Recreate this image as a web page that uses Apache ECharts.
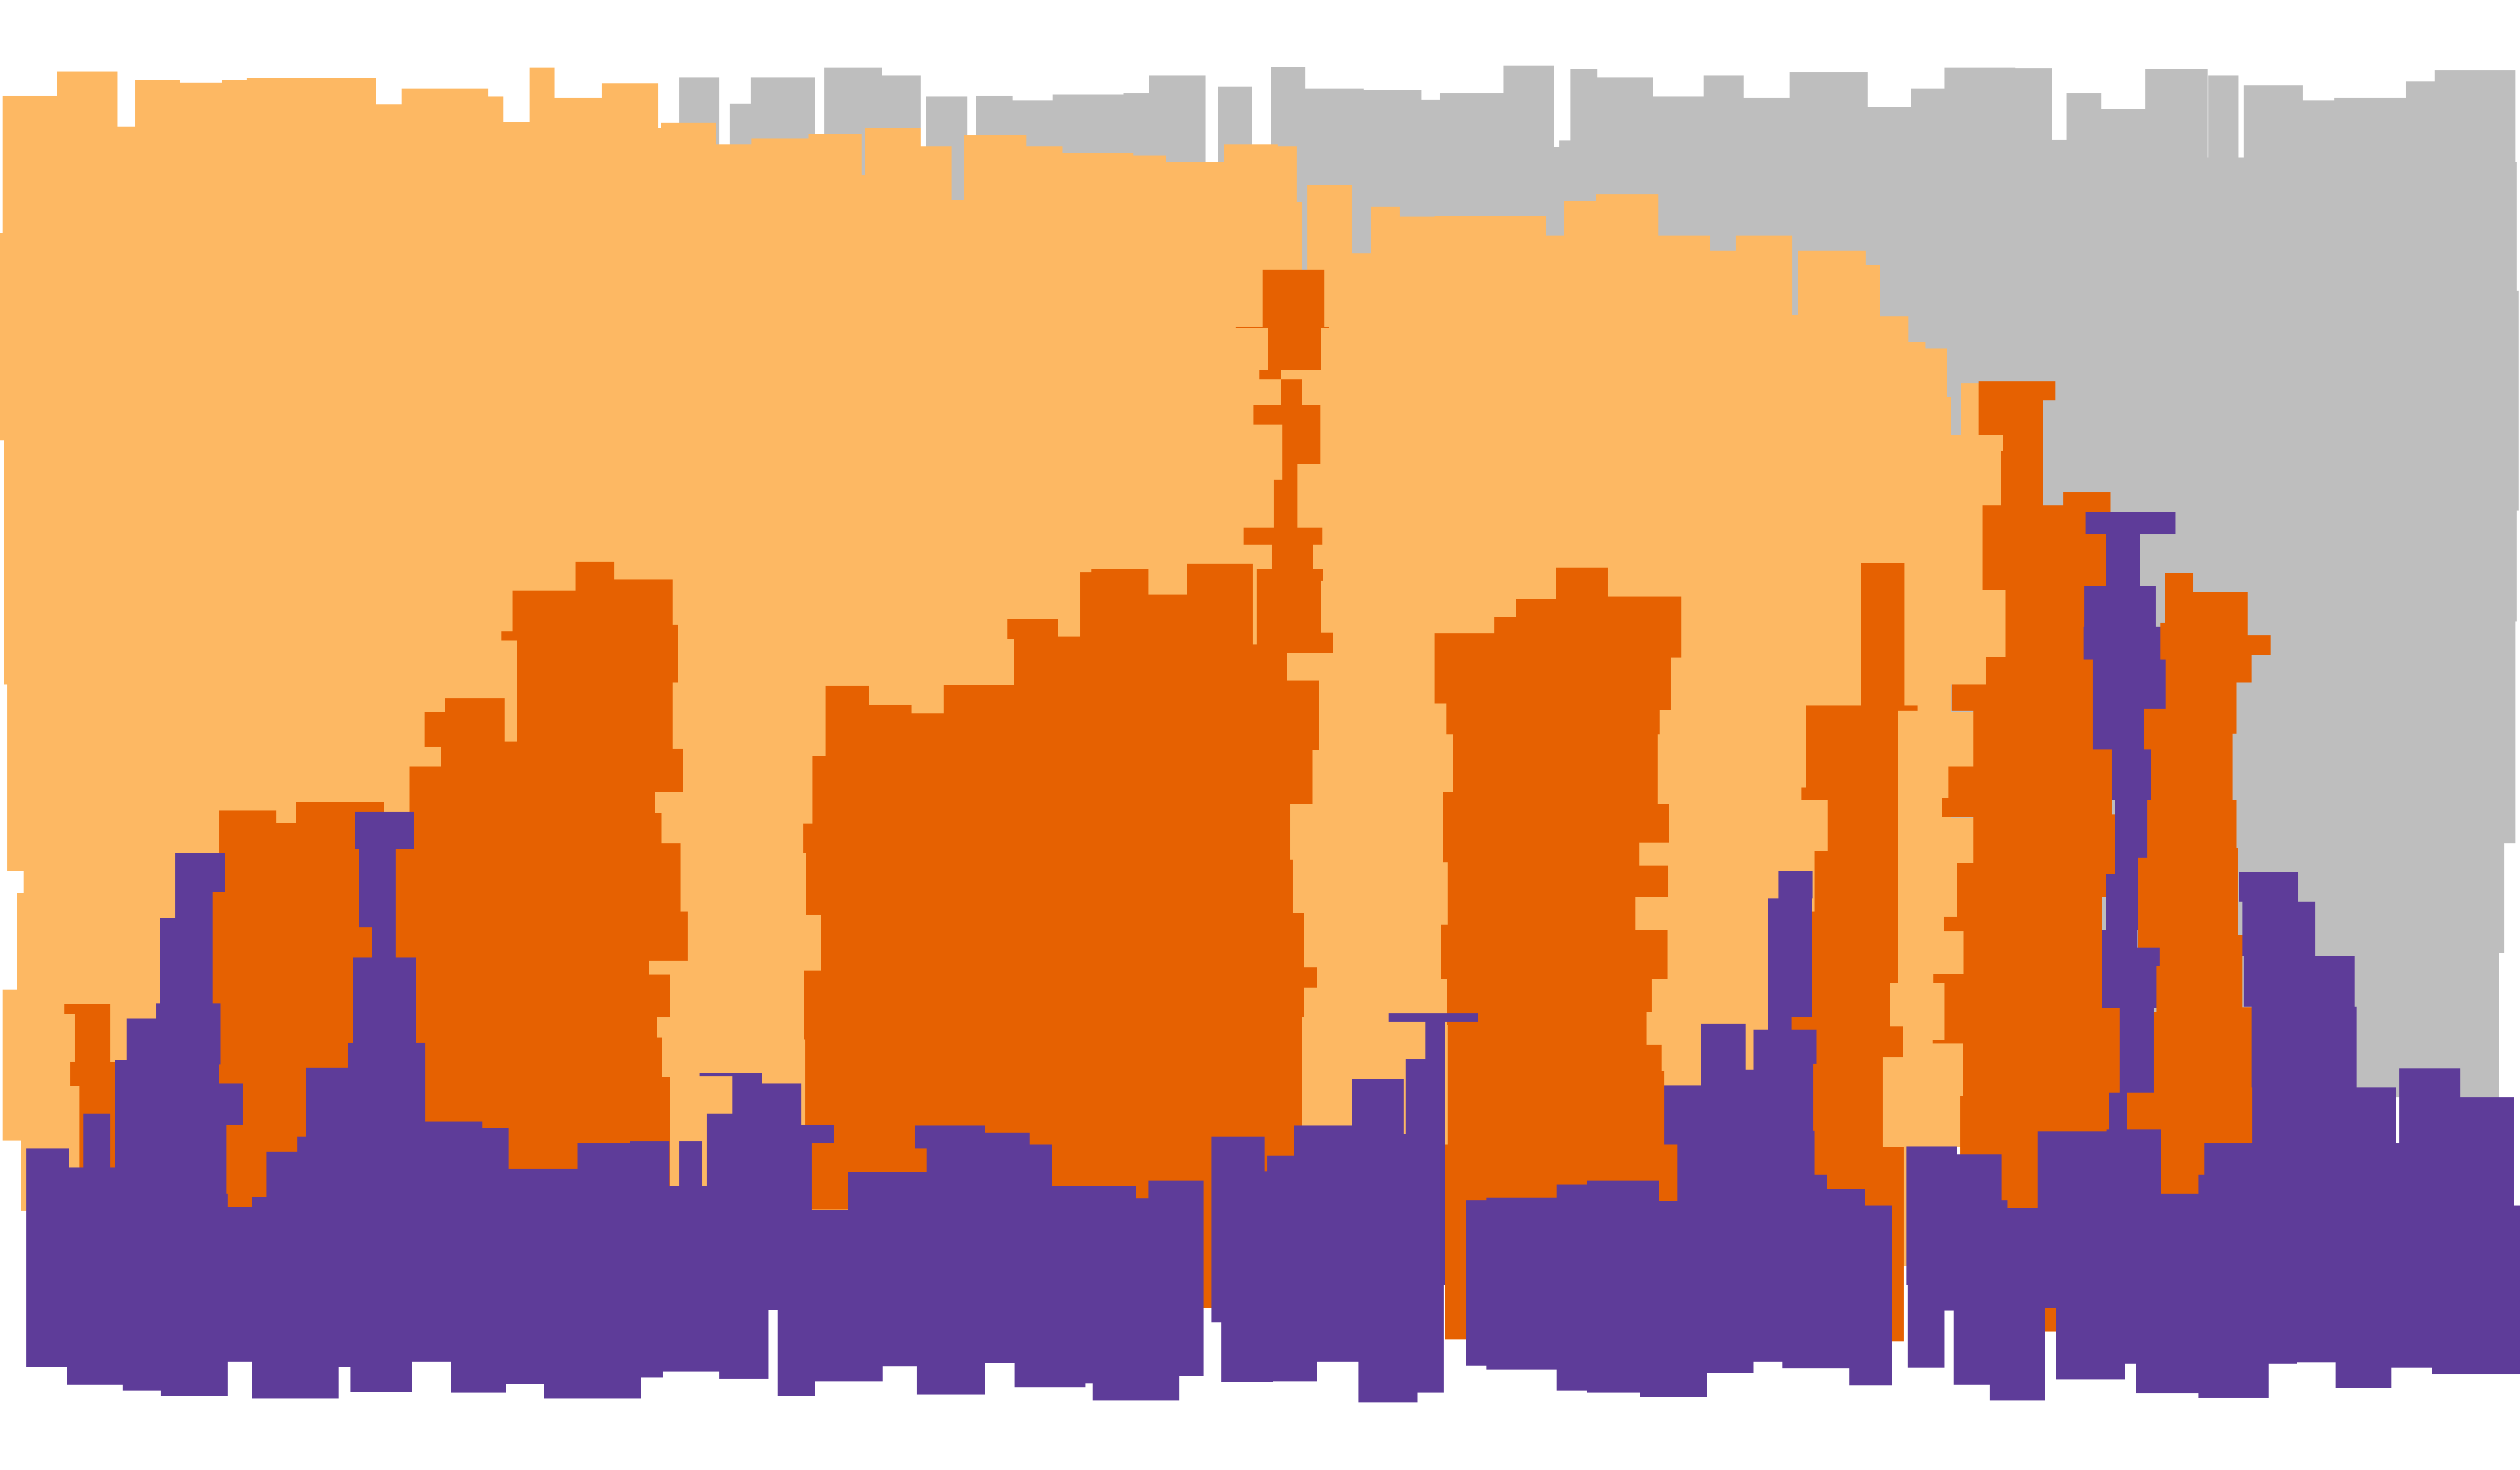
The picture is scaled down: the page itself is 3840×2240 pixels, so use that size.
<!DOCTYPE html>
<html>
<head>
<meta charset="utf-8">
<style>html,body{margin:0;padding:0;background:#fff}#c{width:3840px;height:2240px}</style>
<script src="https://cdn.jsdelivr.net/npm/echarts@6/dist/echarts.min.js"></script>
</head>
<body>
<div id="c"></div>
<script>
// Each rectangle: [xStart, xEnd, yTop, yBottom] in chart units (x 0..1568, y 0..915 from the top)
const grayRects = [
  [422.5,447.5,48,683],[454,467,64.5,683],[467,507,48,683],[513,549,42,683],[549,573,47,683],
  [576,602,60,683],[607,630,59.5,683],[630,655,62.4,683],[655,699,59,683],[699,715,58,683],
  [715,750,47,683],[758,779,54,683],[791,812,41.7,683],[812,848.5,55,683],[848.5,884.5,56,683],
  [884.5,896,62,683],[896,935.5,58,683],[935.5,967,41,683],[967,970,91.6,683],[970,977,87.5,683],
  [977,994,43,683],[994,1028.5,48,683],[1028.5,1060,60,683],[1060,1085,47,683],[1085,1113.5,61,683],
  [1113.5,1162,45,683],[1162,1189,66.5,683],[1189,1210,55,683],[1210,1254,42,683],[1254,1277,42.6,683],
  [1277,1286,87,683],[1286,1307.5,58,683],[1307.5,1335,67.7,683],[1335,1373.5,43,683],[1373.5,1374,98,683],
  [1374,1393,47,683],[1393,1396,98,683],[1396,1433,53,683],[1433,1452.5,62.4,683],[1452.5,1497,61,683],
  [1497,1515,50.8,683],[1515,1565,43.7,525],[1515,1558,525,593],[1515,1555,593,683],
  [1565,1566,101,387],[1566,1567,181,318]
];

const paleRects = [
  [1.75,35.5,59.5,145],[0,35.5,145,274],[2.5,35.5,274,426],[4.5,35.5,426,542],[14.75,35.5,542,556],
  [10.5,35.5,556,616],[1.75,35.5,616,710],[13,35.5,710,753.6],
  [35.5,73,44.6,760],[73,84,79,760],[84,112,50,760],[112,138,51.3,760],[138,153.5,50,760],
  [153.5,234,48.7,760],[234,250,65,760],[250,304,55,760],[304,313,60,760],[313,329.5,76,760],
  [329.5,345,42,760],[345,374.5,61,760],[374.5,409.5,52,760],[409.5,411,79.6,760],[411,445.5,76.4,760],
  [445.5,467.5,90,760],[467.5,503,86,760],[503,536,83.4,760],[536,538,109,760],[538,573,79.6,760],
  [573,592,91,760],[592,600,124.5,760],[600,638.5,84,760],[638.5,661,91,760],[661,705,95,760],
  [705,725.5,97,760],[725.5,761.5,101,760],[761.5,795,90,760],[795,807,91,760],[807,810,126,760],
  [810,813.5,168,760],[813.5,841,115,760],[841,853,157.5,760],[853,871,128.6,760],[871,892.5,135,760],
  [892.5,962,134.5,760],[962,973,146.7,760],[973,993,125,760],[993,1032,121,760],[1032,1064,146.7,760],
  [1064,1080,156,760],[1080,1115,146.7,760],[1115,1119,196,760],[1119,1161,156,760],[1161,1170,165,760],
  [1170,1187.5,197,760],[1187.5,1198,213,760],[1198,1211.5,217,760],[1211.5,1214,247,760],
  [1220,1231,238.6,270.7],[1214,1246.25,270.7,280.6],[1214,1245,280.6,315],[1214,1233.5,315,367],
  [1214,1247.75,367,409],[1214,1235.5,409,426],[1214,1227.75,443,477],[1214,1227.75,509,537],
  [1214,1217.75,537,571],[1214,1221.75,579,606],[1214,1221.25,649,682],[1214,1220,682,714],
  [1184.5,1186.25,700,788]
];

const orangeRects = [
  // A
  [40,68.5,625,631],[46.5,68.5,631,661],[43.75,71.5,661,676],[49.5,71.5,676,740],
  // B
  [136.5,172,504.3,555],[172,184,512.1,555],[184,239,499,555],[132,239,555,662],[136.5,239,662,675],
  [151,239,675,700],[140.75,239,700,743],[141.75,239,743,751],[239,264,527,700],
  // C
  [264,277,443,465],[274.5,277,465,477],[255,277,477,740],[277,314,434.6,740],[312,321.75,393,398.5],
  [319,321.75,367.5,398.5],[321.75,358,367.5,740],[314,321.75,461.7,740],[358,382,349.5,740],
  [382,403.75,360.5,740],[403.75,418.5,360.5,493],[418.5,421.75,389,425],[418.5,425,466,493],
  [403.75,407.5,493,506],[403.75,411.5,506,525],[403.75,423.5,525,567.5],[403.75,428,567.5,598],
  [403.75,417,606.6,633],[403.75,408.75,633,646],[403.75,412,646,670.5],[403.75,417,670.5,740],
  // D spike
  [769,826.75,203.3,204.2],[785.75,824,167.7,203.3],[789,822,204.2,230.4],[783.5,797,230.4,236.3],
  [797,810.25,236.3,252],[780,821.5,252,264.3],[798,821.5,264.3,289],[798,807.25,289,298.4],
  [792.5,807.25,298.4,328.4],[773.75,822.75,328.4,339],[791.25,817,339,354],[782,823.25,354,361.4],
  [782,822,361.4,393.8],[782,829.25,393.8,406.3],[782,800.75,406.3,423.5],[782,820.75,423.5,467],
  // D body
  [513.75,540.75,426.8,753],[540.75,567.25,438.7,753],[567.25,587.25,444,753],[587.25,630.75,426.5,753],
  [626.75,630.75,385,398],[630.75,658.25,385,753],[658.25,672,396.4,753],[672,679,356.4,753],
  [679,714.5,354,753],[714.5,738.75,370,753],[738.75,779.5,351,753],[779.5,782,401,753],
  [505.5,513.75,470.4,512.7],[499.75,513.75,512.7,531],[501.5,513.75,531,569.3],[510.75,513.75,569.3,604.3],
  [500.25,513.75,604.3,646.9],[501,513.75,646.9,700.3],[505,513.75,700.3,753],
  [782,816.75,467,500.5],[782,802.75,500.5,535],[782,804.5,535,568.4],[782,811.25,568.4,602],
  [782,819.5,602,614.8],[782,811.25,614.8,633.2],[782,810.25,633.2,753],[749,754,700,814],
  // E
  [892.5,929.75,394.3,438],[929.75,943.25,384,438],[943.25,968.25,373,438],[968.25,1000.5,353.2,438],
  [1000.5,1046.25,371.3,409.5],[1000.5,1039.5,409.5,438],
  [900,1039.5,438,442],[900,1032.75,442,457],[904,1031.5,457,493],[898,1031.5,493,500.5],
  [898,1038.5,500.5,524.4],[898,1020,524.4,536.6],[900.75,1020,536.6,538.7],[900.75,1038,538.7,558.2],
  [900.75,1017.5,558.2,575.7],[896.75,1017.5,575.7,579],[896.75,1037.5,579,609.6],[900.25,1027.75,609.6,629.7],
  [900.25,1024.5,629.7,638],[900.75,1024.5,638,650.4],[900.75,1034,650.4,666.5],[900.75,1035.5,666.5,712.5],
  [899.25,1043.75,712.5,747.5],[899.25,912.25,747.5,833.6],
  // F
  [1158,1185,350.3,439],[1123.75,1193,439,442.5],[1123.75,1181,442.5,490],[1120.75,1181,490,498],
  [1137.25,1181,498,530],[1129,1181,530,567.5],[1127.5,1181,567.5,612],[1127.5,1176,612,633],
  [1114.75,1176,633,639],[1114.75,1184,639,641],[1130.25,1184,641,658],[1130.25,1171.5,658,662],
  [1128.25,1171.5,662,703.7],[1129,1171.5,703.7,714],[1129,1184.5,714,731],[1136.75,1184.5,731,740],
  [1160.5,1184.5,740,835],
  // G
  [1231,1279,237.2,249],[1231,1271.25,249,270.7],[1246.25,1271.25,270.7,280.6],[1245,1271.25,280.6,306.3],
  [1245,1271.25,306.3,314.7],[1283.75,1313.25,306.3,314.7],[1233.5,1313.25,314.7,318.8],
  [1233.5,1310.25,318.8,364.6],[1233.5,1299.75,364.6,367.2],[1247.75,1299.75,367.2,409],
  [1235.5,1302.25,409,426],[1214.5,1302.25,426,442.5],[1227.75,1302.25,442.5,466.3],[1227.75,1314,466.3,477],
  [1212.25,1314,477,496.7],[1208.25,1314,496.7,507],[1208.25,1316,507,508.6],[1227.75,1316,508.6,537],
  [1217.75,1316,537,544],[1217.75,1310.25,544,558.5],[1217.75,1308,558.5,570.8],[1209.5,1308,570.8,579.5],
  [1221.75,1308,579.5,606],[1203,1308,606,612],[1210,1308,612,627.6],[1210,1319,627.6,647.5],
  [1202.5,1319,647.5,649.5],[1221.25,1319,649.5,680.2],[1221.25,1312.5,680.2,682.2],
  [1219.75,1312.5,682.2,704.4],[1219.75,1268,704.4,752.2],[1272.25,1279.25,704,829],
  // H
  [1347,1364.6,356.5,368.3],[1347,1398.5,368.3,387.5],[1344.2,1398.5,387.5,395.3],[1344.2,1412.8,395.3,407.6],
  [1344.2,1400.9,407.6,419.8],[1347.5,1400.9,419.8,424.8],[1347.5,1391.7,424.8,440.9],[1334,1391.7,440.9,456.5],
  [1334,1389.25,456.5,471.3],[1338.5,1389.25,471.3,498],[1336,1391.5,498,527.6],[1336,1392.5,527.6,534],
  [1330.25,1392.5,534,582],[1330.25,1395.25,582,590],[1344,1395.25,590,601.4],[1341.75,1395.25,601.4,627],
  [1341.75,1401,627,629.7],[1340.25,1401,629.7,661.8],[1340.25,1404.25,661.8,677.5],[1340.25,1401.5,677.5,680.2],
  [1323.5,1401.5,680.2,703.2],[1344.75,1401.5,703.2,711.4],[1344.75,1371.5,711.4,743]
];

const purpleRects = [
  // upper parts
  [16.25,42.75,715,800],[42.75,51.75,726.5,800],[51.75,68.5,693.3,800],[68.5,71.5,726.5,800],
  [71.5,78.75,659.8,800],[78.75,97.25,634,800],[97.25,99.75,624.4,800],[99.75,109,571.3,800],
  [109,140,531.1,555],[109,132.25,555,624.4],[109,137.25,624.4,662.4],[109,136.5,662.4,674.6],
  [109,151,674.6,700.3],[109,140.75,700.3,743],[109,141.75,743,800],[141.75,156.75,751,800],
  [156.75,165.75,745.2,800],[165.75,185,717,800],[185,190.25,707.3,800],[190.25,216.5,664.4,800],
  [216.5,264.5,649,800],[219.75,259,596,649],[231.5,246.25,577,596],[223.25,246.25,528.5,577],
  [221,257.75,505.1,528.5],
  [264.25,300,698.2,800],[300,316.5,702,800],[316.5,359.25,727.7,800],[359.25,392,711.7,800],
  [392,416.5,710.2,800],[416.5,422.5,738,800],[422.5,437,710.2,800],[437,439.75,738,800],
  [439.75,455.75,693.3,800],[455.75,474,668,800],[435.25,474,668,670],[474,498.5,674.6,800],
  [498.5,519,700.3,711.4],[474,505,711.4,800],[505,527.5,753.4,800],[527.5,576.5,729.7,800],
  [569.25,576.5,700.6,714.9],[576.5,613,700.6,800],[613,640.75,705.2,800],[640.75,654.5,712.2,800],
  [654.5,706.75,738,800],[706.75,714.5,746,800],[714.5,749,734.7,800],[753.75,784,707.3,800],
  [784,786.75,707.3,800],[786.75,788.5,729,800],[788.5,805.25,719.5,800],[805.25,841.25,700.6,800],
  [841.25,873.5,671.4,800],[873.5,874.75,706,800],[874.75,887,659.4,800],[864,919.5,630.6,636.1],
  [887,899,636.1,800],[912.25,924.75,747,800],[924.75,968.5,745.5,800],[968.5,987.25,737.3,800],
  [987.25,1032.25,734.7,800],[1032.25,1035.5,747.5,800],[1035.5,1043.75,675.5,712.5],
  [1035.5,1043.75,747.5,800],[1043.75,1058.5,675.5,800],[1058.5,1086.25,637.3,800],[1086.25,1091,665.9,800],
  [1106.5,1127.75,541.9,559.4],[1100,1127.5,559.4,633],[1100,1114.75,633,641],
  [1091,1130.25,641,662],[1091,1128.25,662,703.7],[1091,1129,703.7,731],[1091,1136.75,731,740],
  [1091,1160.5,740,750.4],[1091,1177.25,750.4,800],
  [1186.25,1217.75,713.7,800],[1217.75,1245.5,718.6,800],[1245.5,1249,747.3,800],[1249,1267.75,752.2,800],
  [1267.75,1310.75,704.4,800],[1310.75,1344.75,703.2,800],[1344.75,1368,743,800],[1368,1371.5,731,800],
  [1297.75,1353.5,318.8,332.5],[1310.25,1331.5,332.5,364.6],[1296.75,1341.25,364.6,390.3],
  [1296.5,1344.25,390.3,410.4],[1302.25,1347.5,410.4,441],[1302.25,1334,441,466.3],[1314,1338.5,466.3,497.8],
  [1316,1336,497.8,534],[1316,1330.25,534,544],[1310.25,1330.25,544,579],[1308,1330,579,590],
  [1308,1344,590,601.4],[1308,1341.75,601.4,627.6],[1319,1340.25,627.6,680.2],[1312.5,1323.5,680.2,703.2],
  [1393.25,1430,543,561.4],[1395.25,1440.5,561.4,595.3],[1396,1465,595.3,626.8],[1401,1466.25,626.8,677],
  [1401.5,1490.75,677,711.4],[1371.5,1492.75,711.4,800],[1492.75,1530.75,665.2,800],
  [1530.75,1564.25,682.8,800],[1564.25,1568,750.4,800],
  // lower parts
  [16.25,41.75,800,851],[41.75,76.25,800,861.9],[76.25,100,800,865.4],[100,141.75,800,869],
  [141.75,156.75,800,847.6],[156.75,210.75,800,870.6],[210.75,218,800,851],[218,256.5,800,866.5],
  [256.5,280.5,800,847.6],[280.5,314.75,800,866.8],[314.75,338.5,800,861.3],[338.5,399,800,870.6],
  [399,412.5,800,857.2],[412.5,447.5,800,853.7],[447.5,478.25,800,858.4],[478.25,483.75,800,815.5],
  [483.75,507,800,869],[507,549.25,800,859.9],[549.25,570.5,800,850.5],[570.5,613,800,868],
  [613,631.25,800,848.5],[631.25,675.5,800,863.6],[675.5,679.75,800,861],[679.75,733.75,800,871.5],
  [733.75,749,800,856.6],[753.75,760,800,823],[760,792.25,800,860.4],[792.25,819.5,800,859.8],
  [819.5,845.25,800,847.6],[845.25,882,800,873],[882,898.25,800,866.8],[912.25,924.75,800,850.2],
  [924.75,968.5,800,852.3],[968.5,987.25,800,865.4],[987.25,1020.5,800,866.8],[1020.5,1062,800,869.7],
  [1062,1091,800,854.6],[1091,1109,800,847.6],[1109,1150.75,800,851.7],[1150.75,1177.25,800,862.5],
  [1187,1210,800,851.1],[1210,1215.5,800,815.8],[1215.5,1238,800,861.9],[1238,1272.25,800,871.8],
  [1272.25,1279.25,800,814.3],[1279.25,1322.25,800,858.6],[1322.25,1329,800,849],[1329,1368,800,867.4],
  [1368,1411.5,800,870],[1411.5,1429.25,800,849],[1429.25,1453.25,800,848.2],[1453.25,1488,800,864],
  [1488,1513.25,800,851.4],[1513.25,1568,800,855.5]
];

const layerColors = ['#bebebe', '#fdb863', '#e66101', '#5e3c99'];

function rectLayer(name, data, color, z) {
  return {
    type: 'custom',
    name: name,
    data: data,
    z: z,
    silent: true,
    animation: false,
    clip: false,
    encode: { x: [0, 1], y: [2, 3] },
    renderItem: function (params, api) {
      const a = api.coord([api.value(0), api.value(2)]);
      const b = api.coord([api.value(1), api.value(3)]);
      const x0 = Math.round(Math.min(a[0], b[0]));
      const x1 = Math.round(Math.max(a[0], b[0]));
      const y0 = Math.round(Math.min(a[1], b[1]));
      const y1 = Math.round(Math.max(a[1], b[1]));
      return {
        type: 'rect',
        shape: { x: x0, y: y0, width: Math.max(x1 - x0, 1), height: Math.max(y1 - y0, 1) },
        style: { fill: color }
      };
    }
  };
}

const chart = echarts.init(document.getElementById('c'), null, { renderer: 'canvas' });
chart.setOption({
  backgroundColor: '#ffffff',
  animation: false,
  grid: { left: 0, right: 0, top: 0, bottom: 0 },
  xAxis: { type: 'value', min: 0, max: 1568, show: false },
  yAxis: { type: 'value', min: 0, max: 915, inverse: true, show: false },
  series: [
    rectLayer('gray', grayRects, layerColors[0], 1),
    rectLayer('light orange', paleRects, layerColors[1], 2),
    rectLayer('orange', orangeRects, layerColors[2], 3),
    rectLayer('purple', purpleRects, layerColors[3], 4)
  ]
});
</script>
</body>
</html>
